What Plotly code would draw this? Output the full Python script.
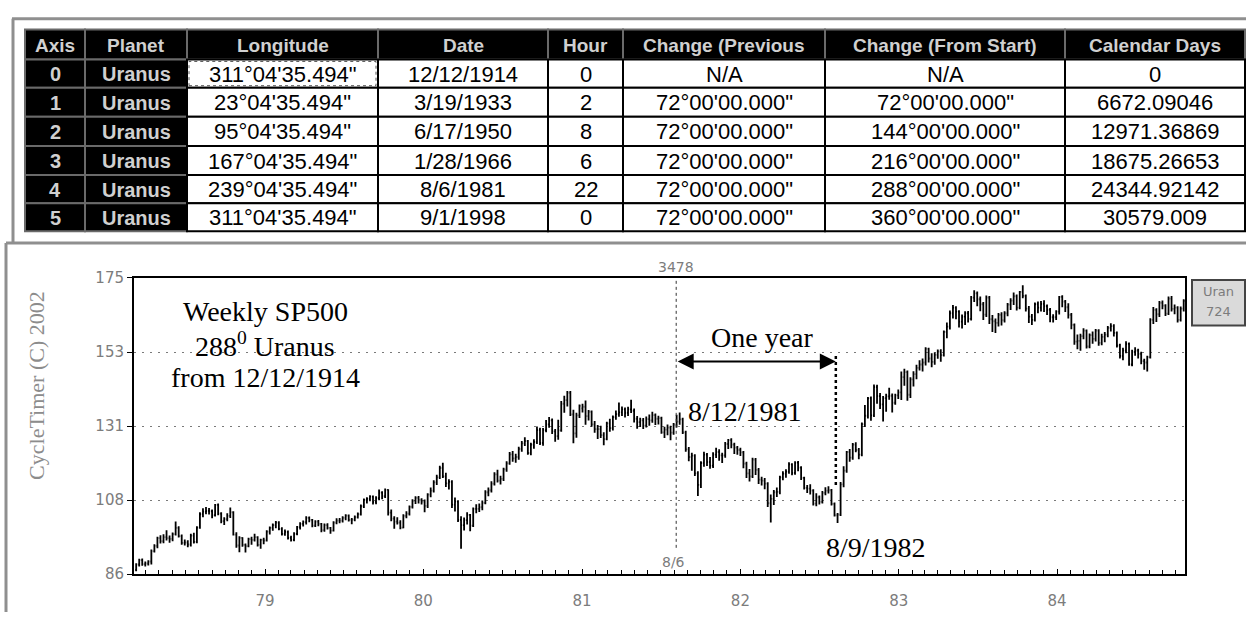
import pandas as pd
import plotly.graph_objects as go

W, H = 1246, 621

# ---- table (CycleTimer Uranus cycle) ----
table_header = ["Axis", "Planet", "Longitude", "Date", "Hour",
                "Change (Previous", "Change (From Start)", "Calendar Days"]
axis_ids = ["0", "1", "2", "3", "4", "5"]
planets = ["Uranus", "Uranus", "Uranus", "Uranus", "Uranus", "Uranus"]
longitudes = ['311°04\'35.494"', '23°04\'35.494"', '95°04\'35.494"',
              '167°04\'35.494"', '239°04\'35.494"', '311°04\'35.494"']
event_dates = ["12/12/1914", "3/19/1933", "6/17/1950", "1/28/1966", "8/6/1981", "9/1/1998"]
hours = ["0", "2", "8", "6", "22", "0"]
change_prev = ["N/A", '72°00\'00.000"', '72°00\'00.000"', '72°00\'00.000"',
               '72°00\'00.000"', '72°00\'00.000"']
change_start = ["N/A", '72°00\'00.000"', '144°00\'00.000"', '216°00\'00.000"',
                '288°00\'00.000"', '360°00\'00.000"']
calendar_days = ["0", "6672.09046", "12971.36869", "18675.26653", "24344.92142", "30579.009"]

# ---- weekly SP500 bars, one per Friday starting 10 Mar 1978 ----
first_week = "1978-03-10"
week_open = [
    # 1978
    87.3, 88.9, 90.2, 89.0, 89.2, 89.8, 92.9, 94.5, 96.8, 95.9, 97.1, 96.8, 96.6, 98.0, 99.9, 97.4, 95.4, 95.5,
    94.9, 97.6, 95.7, 100.0, 104.0, 104.8, 105.0, 104.9, 103.7, 106.8, 104.2, 101.9, 102.5, 103.5, 104.6, 97.9,
    94.6, 96.9, 94.8, 94.4, 96.5, 96.3, 97.1, 94.8, 96.3,
    # 1979
    96.1, 98.8, 99.9, 100.7, 101.5, 99.6, 98.1, 98.7, 96.9, 96.3, 98.1, 100.1, 101.1, 101.6, 102.9, 102.3, 100.6,
    101.8, 101.1, 99.2, 100.7, 99.9, 99.1, 101.5, 102.1, 102.1, 102.9, 103.6, 102.3, 102.4, 103.1, 104.0, 106.4,
    108.3, 108.6, 109.3, 107.7, 108.8, 110.5, 109.4, 111.3, 104.5, 102.7, 101.8, 101.5, 100.0, 103.5, 104.2,
    106.2, 108.0, 108.9, 108.3,
    # 1980
    107.8, 106.5, 109.9, 111.1, 113.6, 115.1, 117.9, 115.4, 113.3, 113.7, 106.9, 107.8, 102.3, 100.7, 102.2,
    103.8, 100.6, 105.6, 105.6, 106.1, 107.4, 110.6, 111.2, 113.2, 116.0, 114.1, 114.6, 117.5, 119.3, 122.0,
    120.8, 121.2, 123.6, 125.3, 126.0, 122.4, 124.9, 125.7, 129.3, 125.4, 129.3, 131.0, 132.2, 128.9, 127.5,
    129.2, 137.2, 138.3, 140.5, 134.0, 128.3, 133.7,
    # 1981
    135.8, 136.3, 133.5, 134.8, 131.0, 129.6, 129.6, 127.8, 126.6, 131.3, 129.9, 133.2, 134.1, 134.6, 135.5,
    134.5, 135.5, 135.1, 132.7, 131.7, 132.2, 130.6, 132.6, 132.2, 133.8, 132.7, 132.9, 128.6, 129.4, 130.0,
    128.5, 130.9, 131.8, 132.5, 128.6, 123.5, 121.2, 121.6, 116.3, 112.8, 119.4, 121.9, 119.7, 118.6, 121.9,
    122.7, 121.7, 121.7, 125.1, 126.3, 124.9, 124.0,
    # 1982
    123.3, 122.6, 119.2, 116.3, 115.4, 120.4, 117.3, 114.4, 114.1, 113.2, 107.3, 108.6, 110.6, 110.7, 115.1,
    116.2, 116.8, 119.0, 116.4, 119.5, 118.0, 114.9, 111.9, 111.7, 111.1, 107.2, 109.1, 107.7, 110.4, 111.1,
    111.2, 107.1, 103.7, 103.9, 113.0, 117.1, 122.7, 121.0, 124.9, 123.3, 121.9, 131.1, 133.6, 138.8, 133.7,
    142.2, 139.5, 137.0, 138.9, 139.4, 139.6, 137.5, 139.7,
    # 1983
    140.6, 145.2, 146.7, 139.9, 144.5, 146.1, 148.0, 149.0, 149.6, 153.7, 150.8, 149.8, 151.9, 152.9, 151.8,
    158.8, 160.4, 164.4, 166.1, 164.9, 161.9, 163.4, 164.4, 162.7, 169.1, 170.4, 168.6, 167.1, 164.0, 169.1,
    162.6, 162.0, 161.5, 163.9, 162.3, 164.4, 167.0, 168.2, 169.5, 166.1, 170.8, 169.6, 165.8, 163.4, 162.4,
    167.1, 166.1, 167.2, 166.5, 165.4, 163.2, 163.2,
    # 1984
    164.9, 169.3, 167.9, 166.2, 163.9, 160.9, 155.9, 156.1, 157.5, 159.2, 154.4, 157.8, 156.7, 159.2, 155.5,
    157.3, 158.0, 160.0, 160.5, 158.5, 154.7, 151.6, 153.2, 155.2, 149.0, 152.8, 153.2, 152.2, 150.0, 149.6,
    151.2, 162.4, 165.4, 164.1, 167.5, 166.7, 164.3, 168.8, 165.7, 166.1, 162.4, 165.8,
]
week_high = [
    # 1978
    89.3, 90.6, 90.7, 89.8, 90.2, 93.4, 95.0, 97.2, 97.7, 98.0, 99.2, 97.6, 98.5, 101.8, 100.4, 97.9, 96.4, 96.2,
    98.1, 98.4, 100.4, 104.6, 105.8, 106.2, 105.9, 105.4, 107.1, 107.2, 104.6, 103.1, 104.3, 106.0, 104.9, 98.6,
    97.4, 97.1, 95.2, 96.9, 97.2, 98.1, 97.4, 96.6, 96.9,
    # 1979
    99.2, 100.3, 101.2, 102.0, 101.9, 100.1, 99.4, 99.1, 97.5, 98.6, 100.5, 101.6, 102.1, 103.4, 103.3, 102.6,
    102.2, 102.3, 101.4, 101.2, 101.3, 100.2, 101.9, 102.8, 102.9, 103.4, 104.0, 103.9, 102.9, 103.6, 104.5,
    106.9, 108.7, 109.1, 109.7, 109.6, 109.4, 111.4, 110.9, 111.7, 111.5, 105.4, 103.4, 103.1, 102.2, 104.0,
    104.9, 106.6, 108.5, 109.4, 109.5, 108.8,
    # 1980
    108.4, 110.3, 112.0, 114.2, 115.9, 118.6, 119.5, 116.5, 114.5, 114.2, 109.0, 108.2, 103.4, 103.0, 104.6,
    104.1, 106.0, 107.0, 107.2, 108.1, 111.2, 112.0, 113.9, 116.6, 117.4, 115.6, 118.0, 119.9, 122.7, 123.0,
    122.2, 124.3, 126.0, 127.1, 126.3, 125.5, 126.5, 130.4, 130.0, 129.9, 132.3, 133.2, 132.8, 129.6, 132.4,
    138.0, 139.6, 141.0, 141.0, 135.4, 134.5, 137.0,
    # 1981
    137.2, 138.2, 135.3, 135.2, 132.0, 130.8, 130.6, 128.6, 131.8, 132.7, 133.7, 135.2, 137.6, 136.4, 136.1,
    136.3, 138.4, 135.8, 133.5, 133.0, 132.9, 133.4, 134.0, 134.8, 134.3, 133.6, 133.3, 130.3, 131.0, 130.6,
    131.4, 133.9, 134.6, 133.0, 129.1, 124.2, 122.5, 122.0, 116.9, 119.9, 122.8, 122.4, 121.2, 122.6, 124.0,
    123.5, 122.5, 125.7, 126.6, 126.8, 125.5, 124.5,
    # 1982
    124.0, 123.0, 119.8, 117.6, 121.0, 120.9, 117.9, 115.3, 114.9, 113.6, 109.9, 111.3, 112.0, 115.6, 116.9,
    117.5, 119.6, 119.3, 119.9, 120.0, 118.4, 115.3, 112.8, 113.0, 111.5, 110.3, 109.6, 111.0, 112.1, 112.4,
    111.6, 107.5, 104.4, 113.7, 118.4, 123.0, 123.6, 125.4, 125.6, 123.9, 131.6, 136.8, 139.2, 139.4, 143.0,
    142.9, 140.4, 139.5, 140.2, 142.0, 140.3, 140.2, 141.5,
    # 1983
    146.9, 147.7, 147.2, 145.2, 147.0, 148.9, 150.3, 150.8, 154.2, 154.0, 152.4, 152.6, 153.5, 153.6, 159.2,
    161.6, 165.2, 166.9, 166.5, 165.3, 164.0, 165.0, 165.1, 169.6, 171.3, 170.9, 169.4, 167.8, 169.7, 169.6,
    163.9, 162.8, 164.5, 164.7, 165.0, 167.5, 168.9, 170.6, 170.0, 171.1, 172.8, 170.0, 166.6, 164.2, 167.6,
    167.9, 168.1, 168.3, 167.0, 166.0, 164.1, 165.3,
    # 1984
    169.6, 169.8, 168.4, 167.4, 164.5, 161.3, 158.0, 158.2, 159.9, 159.5, 158.3, 158.9, 159.7, 159.6, 158.2,
    158.8, 160.6, 161.4, 161.1, 158.9, 155.2, 154.0, 156.0, 155.6, 153.4, 154.2, 153.7, 152.8, 150.7, 151.6,
    162.9, 166.3, 165.9, 168.1, 168.2, 167.1, 169.4, 169.6, 167.0, 166.5, 166.4, 168.6,
]
week_low = [
    # 1978
    86.9, 88.3, 88.5, 88.3, 88.6, 88.9, 92.5, 93.8, 95.2, 95.3, 96.1, 95.4, 95.9, 97.6, 97.0, 94.8, 94.6, 94.1,
    94.3, 95.2, 95.3, 99.6, 103.1, 104.0, 103.9, 102.8, 103.3, 103.7, 101.3, 100.8, 101.9, 102.9, 97.6, 93.9,
    92.6, 94.2, 92.5, 94.1, 94.8, 95.8, 94.3, 93.6, 95.0,
    # 1979
    95.8, 97.9, 99.0, 99.8, 99.2, 97.6, 97.5, 96.4, 95.8, 95.9, 97.7, 99.4, 100.3, 100.9, 101.6, 100.1, 100.2,
    100.4, 98.6, 98.7, 99.4, 98.1, 98.8, 101.0, 101.3, 101.5, 102.2, 101.8, 101.0, 101.9, 102.7, 103.6, 105.9,
    107.2, 107.9, 106.9, 107.0, 108.2, 108.5, 108.9, 103.6, 101.9, 99.6, 100.9, 99.5, 99.8, 102.8, 103.6,
    105.7, 107.1, 107.2, 106.9,
    # 1980
    104.6, 105.9, 109.1, 110.5, 112.8, 114.6, 114.9, 112.2, 111.4, 105.9, 104.8, 101.7, 93.6, 99.1, 100.9,
    98.9, 100.2, 104.3, 104.7, 105.2, 107.0, 109.4, 110.5, 112.6, 113.5, 112.9, 114.0, 116.8, 118.9, 119.8,
    119.5, 120.4, 122.8, 124.5, 121.9, 121.7, 123.7, 125.1, 124.8, 124.6, 128.6, 130.0, 128.1, 125.8, 126.4,
    128.8, 134.5, 136.4, 133.5, 125.3, 127.0, 132.9,
    # 1981
    134.6, 130.9, 132.2, 130.3, 128.5, 126.6, 126.9, 124.7, 126.2, 128.8, 129.2, 132.4, 133.3, 133.5, 133.1,
    133.5, 134.4, 131.6, 129.7, 130.2, 129.6, 130.1, 130.6, 131.5, 130.8, 131.0, 128.2, 126.9, 127.7, 126.2,
    127.9, 130.1, 130.9, 128.1, 122.8, 119.9, 117.1, 115.5, 109.5, 111.9, 118.3, 118.5, 117.7, 117.9, 120.9,
    120.1, 119.4, 121.0, 123.6, 123.8, 122.1, 121.9,
    # 1982
    121.5, 117.8, 114.9, 113.8, 114.9, 115.8, 113.1, 112.6, 111.5, 106.2, 101.5, 106.8, 109.2, 110.0, 114.2,
    115.0, 116.2, 115.7, 115.9, 116.9, 114.3, 111.4, 110.4, 109.9, 106.6, 106.4, 106.9, 107.2, 109.7, 110.2,
    106.6, 103.3, 101.4, 103.5, 112.1, 116.5, 119.8, 120.4, 122.6, 120.5, 121.4, 130.2, 132.8, 132.1, 133.2,
    137.2, 135.6, 131.9, 134.8, 138.4, 134.6, 136.9, 138.6,
    # 1983
    138.3, 142.6, 138.1, 138.9, 142.4, 144.6, 147.2, 146.9, 148.7, 149.6, 148.2, 148.9, 150.7, 149.8, 151.4,
    156.9, 159.5, 162.8, 162.6, 160.1, 159.8, 160.9, 161.6, 162.2, 167.8, 166.5, 165.0, 162.4, 163.3, 161.2,
    158.8, 158.5, 160.4, 160.7, 161.6, 163.5, 165.4, 166.9, 165.2, 165.6, 168.9, 164.9, 161.5, 160.9, 161.9,
    164.4, 164.9, 164.8, 163.9, 161.7, 161.6, 162.4,
    # 1984
    164.0, 166.2, 164.8, 162.8, 159.6, 154.9, 153.6, 153.1, 156.6, 153.8, 153.9, 155.2, 155.9, 154.6, 154.8,
    155.7, 157.2, 158.9, 157.4, 154.1, 150.8, 150.3, 152.4, 148.6, 148.5, 151.6, 150.8, 149.1, 147.4, 146.9,
    150.8, 161.2, 161.8, 163.3, 165.6, 163.6, 163.9, 164.9, 164.1, 161.6, 161.9, 164.9,
]
week_close = [
    # 1978
    88.9, 90.2, 89.0, 89.2, 89.8, 92.9, 94.5, 96.8, 95.9, 97.1, 96.8, 96.6, 98.0, 99.9, 97.4, 95.4, 95.5, 94.9,
    97.6, 95.7, 100.0, 104.0, 104.8, 105.0, 104.9, 103.7, 106.8, 104.2, 101.9, 102.5, 103.5, 104.6, 97.9, 94.6,
    96.9, 94.8, 94.4, 96.5, 96.3, 97.1, 94.8, 96.3, 96.1,
    # 1979
    98.8, 99.9, 100.7, 101.5, 99.6, 98.1, 98.7, 96.9, 96.3, 98.1, 100.1, 101.1, 101.6, 102.9, 102.3, 100.6,
    101.8, 101.1, 99.2, 100.7, 99.9, 99.1, 101.5, 102.1, 102.1, 102.9, 103.6, 102.3, 102.4, 103.1, 104.0, 106.4,
    108.3, 108.6, 109.3, 107.7, 108.8, 110.5, 109.4, 111.3, 104.5, 102.7, 101.8, 101.5, 100.0, 103.5, 104.2,
    106.2, 108.0, 108.9, 108.3, 107.8,
    # 1980
    106.5, 109.9, 111.1, 113.6, 115.1, 117.9, 115.4, 113.3, 113.7, 106.9, 107.8, 102.3, 100.7, 102.2, 103.8,
    100.6, 105.6, 105.6, 106.1, 107.4, 110.6, 111.2, 113.2, 116.0, 114.1, 114.6, 117.5, 119.3, 122.0, 120.8,
    121.2, 123.6, 125.3, 126.0, 122.4, 124.9, 125.7, 129.3, 125.4, 129.3, 131.0, 132.2, 128.9, 127.5, 129.2,
    137.2, 138.3, 140.5, 134.0, 128.3, 133.7, 136.6,
    # 1981
    136.3, 133.5, 134.8, 131.0, 129.6, 129.6, 127.8, 126.6, 131.3, 129.9, 133.2, 134.1, 134.6, 135.5, 134.5,
    135.5, 135.1, 132.7, 131.7, 132.2, 130.6, 132.6, 132.2, 133.8, 132.7, 132.9, 128.6, 129.4, 130.0, 128.5,
    130.9, 131.8, 132.5, 128.6, 123.5, 121.2, 121.6, 116.3, 112.8, 119.4, 121.9, 119.7, 118.6, 121.9, 122.7,
    121.7, 121.7, 125.1, 126.3, 124.9, 124.0, 123.3,
    # 1982
    122.6, 119.2, 116.3, 115.4, 120.4, 117.3, 114.4, 114.1, 113.2, 107.3, 108.6, 110.6, 110.7, 115.1, 116.2,
    116.8, 119.0, 116.4, 119.5, 118.0, 114.9, 111.9, 111.7, 111.1, 107.2, 109.1, 107.7, 110.4, 111.1, 111.2,
    107.1, 103.7, 103.9, 113.0, 117.1, 122.7, 121.0, 124.9, 123.3, 121.9, 131.1, 133.6, 138.8, 133.7, 142.2,
    139.5, 137.0, 138.9, 139.4, 139.6, 137.5, 139.7, 140.6,
    # 1983
    145.2, 146.7, 139.9, 144.5, 146.1, 148.0, 149.0, 149.6, 153.7, 150.8, 149.8, 151.9, 152.9, 151.8, 158.8,
    160.4, 164.4, 166.1, 164.9, 161.9, 163.4, 164.4, 162.7, 169.1, 170.4, 168.6, 167.1, 164.0, 169.1, 162.6,
    162.0, 161.5, 163.9, 162.3, 164.4, 167.0, 168.2, 169.5, 166.1, 170.8, 169.6, 165.8, 163.4, 162.4, 167.1,
    166.1, 167.2, 166.5, 165.4, 163.2, 163.2, 164.9,
    # 1984
    169.3, 167.9, 166.2, 163.9, 160.9, 155.9, 156.1, 157.5, 159.2, 154.4, 157.8, 156.7, 159.2, 155.5, 157.3,
    158.0, 160.0, 160.5, 158.5, 154.7, 151.6, 153.2, 155.2, 149.0, 152.8, 153.2, 152.2, 150.0, 149.6, 151.2,
    162.4, 165.4, 164.1, 167.5, 166.7, 164.3, 168.8, 165.7, 166.1, 162.4, 165.8, 168.1,
]
assert len(week_open) == len(week_high) == len(week_low) == len(week_close) == 346

cycle_date = "1981-08-06"   # 288 deg Uranus
low_date = "1982-08-09"
year_ticks = ["1979-01-01", "1980-01-01", "1981-01-01", "1982-01-01", "1983-01-01", "1984-01-01"]
year_labels = ["79", "80", "81", "82", "83", "84"]
price_ticks = [86, 108.25, 130.5, 152.75, 175]
price_labels = ["86", "108", "131", "153", "175"]

weeks = pd.date_range(first_week, periods=len(week_close), freq="7D")


def px(x, y):
    return x / W, 1 - y / H


fig = go.Figure()

# weekly bars
fig.add_trace(go.Ohlc(
    x=weeks, open=week_open, high=week_high, low=week_low, close=week_close,
    increasing_line_color="black", decreasing_line_color="black",
    line_width=1.8, tickwidth=0.35, hoverinfo="skip",
))

gray = "#7c7c7c"
tickfont = dict(family="DejaVu Sans", size=15, color=gray)
fig.update_layout(
    width=W, height=H, margin=dict(l=0, r=0, t=0, b=0),
    paper_bgcolor="white", plot_bgcolor="white", showlegend=False,
    xaxis=dict(
        domain=[134 / W, 1185 / W], type="date", range=["1978-03-05", "1984-10-22"],
        rangeslider=dict(visible=False), tickmode="array", tickvals=year_ticks, ticktext=year_labels,
        ticks="inside", ticklen=5, tickcolor="black", tickfont=tickfont, ticklabelstandoff=12,
        showline=True, linecolor="black", linewidth=2, mirror=True, showgrid=False, zeroline=False,
        minor=dict(dtick="M1", tick0="1978-01-01", ticks="inside", ticklen=4, tickcolor="black",
                   showgrid=False),
    ),
    yaxis=dict(
        domain=[1 - 582 / H, 1 - 277 / H], range=[86, 175],
        tickmode="array", tickvals=price_ticks, ticktext=price_labels,
        ticks="outside", ticklen=5, tickcolor="black", tickfont=tickfont,
        showline=True, linecolor="black", linewidth=2, mirror=True, zeroline=False,
        showgrid=True, gridcolor="#7a7a7a", griddash="2px,6px", gridwidth=1,
    ),
)

# table drawn cell by cell (plotly's go.Table pads rows too tall)
col_edges = [25, 85, 187, 378, 548, 623, 825, 1065, 1245]
row_edges = [21, 52, 81, 111, 141, 171, 200, 229]
columns = [axis_ids, planets, longitudes, event_dates, hours, change_prev, change_start, calendar_days]
pale = "#d0d0d0"
for j, (head, col) in enumerate(zip(table_header, columns)):
    for i, text in enumerate([head] + col):
        dark_cell = i == 0 or j < 2
        x0, y1 = px(col_edges[j], row_edges[i])
        x1, y0 = px(col_edges[j + 1], row_edges[i + 1])
        fig.add_shape(type="rect", xref="paper", yref="paper", x0=x0, x1=x1, y0=y0, y1=y1,
                      fillcolor="black" if dark_cell else "white",
                      line=dict(color="#6a6a6a" if dark_cell else "black", width=2))
        if dark_cell:
            font = dict(family="Liberation Sans", size=19 if i == 0 else 20, color=pale)
            text = f"<b>{text}</b>"
        else:
            font = dict(family="Liberation Sans", size=22, color="black")
        fig.add_annotation(text=text, x=(x0 + x1) / 2, y=(y0 + y1) / 2 - 0.001,
                           xref="paper", yref="paper", showarrow=False, font=font,
                           xanchor="center", yanchor="middle")

# focus rectangle on the first longitude cell
fx0, fy1 = px(col_edges[2] + 2, row_edges[1] + 2)
fx1, fy0 = px(col_edges[3] - 2, row_edges[2] - 2)
fig.add_shape(type="rect", xref="paper", yref="paper", x0=fx0, x1=fx1, y0=fy0, y1=fy1,
              line=dict(color="#555", width=1, dash="dot"))

serif = dict(family="Liberation Serif", size=28, color="black")
small = dict(family="DejaVu Sans", size=14, color=gray)
notes = [
    ("Weekly SP500", 265, 312, serif),
    ("288<sup>0</sup> Uranus", 265, 346, serif),
    ("from 12/12/1914", 265, 379, serif),
    ("One year", 762, 338, serif),
    ("8/12/1981", 745, 415, serif),
    ("8/9/1982", 876, 555, serif),
    ("3478", 676, 266, small),
    ("8/6", 673, 570, small),
    ("Uran", 1218, 291, dict(family="DejaVu Sans", size=13, color=gray)),
    ("724", 1218, 312, dict(family="DejaVu Sans", size=13, color=gray)),
]
for text, x, y, font in notes:
    ax_, ay_ = px(x, y)
    fig.add_annotation(text=text, x=ax_, y=ay_, xref="paper", yref="paper",
                       showarrow=False, font=font, xanchor="center", yanchor="middle")

tx, ty = px(22, 487)
fig.add_annotation(text="CycleTimer (C) 2002", x=tx, y=ty, xref="paper", yref="paper",
                   showarrow=False, textangle=-90,
                   font=dict(family="Liberation Serif", size=22, color="#8c8c8c"))

# one-year double arrow
arrow_level = 149.9
fig.add_annotation(x=low_date, y=arrow_level, ax=cycle_date, ay=arrow_level,
                   xref="x", yref="y", axref="x", ayref="y", text="",
                   showarrow=True, arrowside="end+start", arrowhead=2, startarrowhead=2,
                   arrowsize=1.6, startarrowsize=1.6, arrowwidth=2, arrowcolor="black",
                   standoff=0, startstandoff=0)

# vertical markers
fig.add_shape(type="line", xref="x", yref="y", x0=cycle_date, x1=cycle_date, y0=93.9, y1=175,
              line=dict(color="#333", width=1, dash="dot"))
fig.add_shape(type="line", xref="x", yref="y", x0=low_date, x1=low_date, y0=112.8, y1=151.7,
              line=dict(color="black", width=2.5, dash="dot"))

# legend chip on the right
x0, y1 = px(1192, 279)
x1, y0 = px(1245, 326)
fig.add_shape(type="rect", xref="paper", yref="paper", x0=x0, x1=x1, y0=y0, y1=y1,
              line=dict(color="#444", width=2), fillcolor="#dadada", layer="below")

# dithered window frame
frame = dict(color="#8f8f8f", width=3)
for (xa, ya), (xb, yb) in [((12, 10), (1246, 10)), ((13, 10), (13, 240)),
                           ((6, 241), (1246, 241)), ((6, 241), (6, 621))]:
    pa, pb = px(xa, ya), px(xb, yb)
    fig.add_shape(type="line", xref="paper", yref="paper",
                  x0=pa[0], y0=pa[1], x1=pb[0], y1=pb[1], line=frame)

fig.write_html("out.html", config={"displayModeBar": False},
               post_script="document.body.style.margin='0';")
